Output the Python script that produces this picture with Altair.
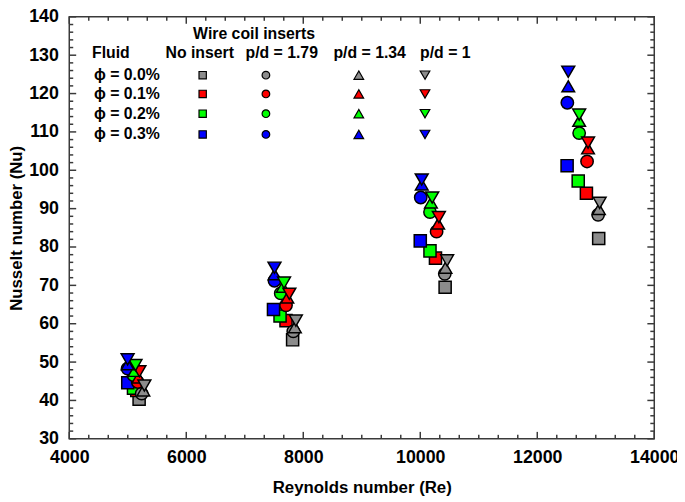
import altair as alt
import pandas as pd

# ---- data ----
fluids = ["0.0%", "0.1%", "0.2%", "0.3%"]
inserts = ["No insert", "p/d = 1.79", "p/d = 1.34", "p/d = 1"]
shapes = ["square", "circle", "triangle-up", "triangle-down"]
colors = ["#8C8C8C", "#FF0000", "#00FF00", "#0000FF"]

# rows: fluid 0.0, 0.1, 0.2, 0.3 ; columns: the four flow-rate clusters
re_no_insert = [[5194, 7818, 10425, 13050],
                [5154, 7705, 10260, 12840],
                [5098, 7603, 10166, 12700],
                [5000, 7491, 10000, 12510]]
nu_no_insert = [[40.3, 55.8, 69.5, 82.2],
                [42.6, 60.8, 77.1, 94.0],
                [43.2, 62.0, 79.0, 97.2],
                [44.6, 63.7, 81.6, 101.2]]

re_pd179 = [[5238, 7829, 10419, 13040],
            [5171, 7705, 10279, 12851],
            [5098, 7615, 10166, 12716],
            [4997, 7508, 10008, 12514]]
nu_pd179 = [[41.8, 58.0, 73.0, 88.4],
            [44.8, 64.8, 84.0, 102.3],
            [46.6, 67.9, 89.1, 109.7],
            [48.3, 71.2, 92.9, 117.6]]

re_pd134 = [[5267, 7857, 10431, 13054],
            [5182, 7728, 10306, 12868],
            [5115, 7649, 10182, 12716],
            [4997, 7508, 10025, 12530]]
nu_pd134 = [[42.6, 59.1, 74.6, 89.9],
            [46.0, 66.8, 86.1, 105.7],
            [47.7, 69.6, 91.6, 112.9],
            [49.4, 72.9, 96.3, 121.9]]

re_pd1 = [[5284, 7873, 10459, 13066],
          [5199, 7762, 10318, 12868],
          [5132, 7671, 10204, 12716],
          [4997, 7508, 10025, 12530]]
nu_pd1 = [[43.9, 60.8, 76.5, 91.5],
          [47.6, 67.8, 87.8, 107.2],
          [49.2, 70.7, 92.9, 114.5],
          [50.7, 74.6, 97.6, 125.7]]

x_ticks = [4000, 6000, 8000, 10000, 12000, 14000]
y_ticks = [30, 40, 50, 60, 70, 80, 90, 100, 110, 120, 130, 140]

RE = [re_no_insert, re_pd179, re_pd134, re_pd1]
NU = [nu_no_insert, nu_pd179, nu_pd134, nu_pd1]

rows = []
for i, ins in enumerate(inserts):
    for j, fl in enumerate(fluids):
        for k in range(4):
            rows.append({"insert": ins, "fluid": fl, "Re": RE[i][j][k], "Nu": NU[i][j][k]})
df = pd.DataFrame(rows)

# ---- layout ----
W, H = 592, 427
TOP = 6
FONT = "Liberation Sans"
FRAME = "#3A3A3A"

xscale = alt.Scale(domain=[4000, 14000], nice=False, zero=False)
yscale = alt.Scale(domain=[30, 140], nice=False, zero=False)
shape_scale = alt.Scale(domain=inserts, range=shapes)
color_scale = alt.Scale(domain=fluids, range=colors)

xaxis = alt.Axis(values=x_ticks, format="d", title="Reynolds number (Re)",
                 ticks=False, domain=False, grid=False,
                 labelFont=FONT, labelFontSize=18, labelFontWeight="bold", labelColor="black",
                 labelPadding=10, labelFlush=False,
                 titleFont=FONT, titleFontSize=17, titleFontWeight="bold", titleColor="black",
                 titlePadding=13)
yaxis = alt.Axis(values=y_ticks, format="d", title="Nusselt number (Nu)",
                 ticks=False, domain=False, grid=False,
                 labelFont=FONT, labelFontSize=18, labelFontWeight="bold", labelColor="black",
                 labelPadding=11, labelFlush=False,
                 titleFont=FONT, titleFontSize=17, titleFontWeight="bold", titleColor="black",
                 titlePadding=3)

points = alt.Chart(df).mark_point(filled=True, stroke="black", strokeWidth=1.5, opacity=1).encode(
    x=alt.X("Re:Q", scale=xscale, axis=xaxis),
    y=alt.Y("Nu:Q", scale=yscale, axis=yaxis),
    shape=alt.Shape("insert:N", scale=shape_scale, legend=None),
    color=alt.Color("fluid:N", scale=color_scale, legend=None),
    size=alt.Size("insert:N", scale=alt.Scale(domain=inserts, range=[150, 170, 220, 220]), legend=None),
)

# inward ticks on all four sides
x_minor = [4000 + i * 2000 / 6 for i in range(31) if i % 6 != 0]
y_minor = [v for v in range(30, 141, 2) if v % 10 != 0]
df_xmaj = pd.DataFrame({"Re": x_ticks})
df_xmin = pd.DataFrame({"Re": x_minor})
df_ymaj = pd.DataFrame({"Nu": y_ticks})
df_ymin = pd.DataFrame({"Nu": y_minor})

def xtick(d, length, bottom=True):
    y0 = H if bottom else 0
    y1 = H - length if bottom else length
    return alt.Chart(d).mark_rule(color=FRAME, strokeWidth=1.5).encode(
        x=alt.X("Re:Q", scale=xscale, axis=xaxis), y=alt.value(y0), y2=alt.value(y1))

def ytick(d, length, left=True):
    x0 = 0 if left else W
    x1 = length if left else W - length
    return alt.Chart(d).mark_rule(color=FRAME, strokeWidth=1.5).encode(
        y=alt.Y("Nu:Q", scale=yscale, axis=yaxis), x=alt.value(x0), x2=alt.value(x1))

ticks = [xtick(df_xmaj, 7, True), xtick(df_xmaj, 7, False),
         xtick(df_xmin, 4, True), xtick(df_xmin, 4, False),
         ytick(df_ymaj, 7, True), ytick(df_ymaj, 7, False),
         ytick(df_ymin, 4, True), ytick(df_ymin, 4, False)]

# ---- custom legend (pixel layout inside the plot area) ----
def label(text, px, py, align="center"):
    return alt.Chart(pd.DataFrame({"t": [text]})).mark_text(
        font=FONT, fontSize=16, fontWeight="bold", color="black", align=align, baseline="middle"
    ).encode(text="t:N", x=alt.value(px), y=alt.value(py))

legend_texts = [
    label("Wire coil inserts", 187, 17),
    label("Fluid", 23, 37, "left"),
    label(inserts[0], 132, 37),
    label(inserts[1], 215, 37),
    label(inserts[2], 304, 37),
    label(inserts[3], 355, 37, "left"),
]
row_y = [59, 78, 98, 119]
col_x = [135, 199, 293, 360]
leg_size = [55, 60, 95, 95]
for j, fl in enumerate(fluids):
    legend_texts.append(label("ϕ = " + fl, 25, row_y[j], "left"))

leg_rows = []
for i, ins in enumerate(inserts):
    for j, fl in enumerate(fluids):
        leg_rows.append({"insert": ins, "fluid": fl, "lx": col_x[i], "ly": row_y[j], "ls": leg_size[i]})
df_leg = pd.DataFrame(leg_rows)
legend_pts = alt.Chart(df_leg).mark_point(filled=True, stroke="black", strokeWidth=1.2, opacity=1).encode(
    x=alt.X("lx:Q", scale=None, axis=None),
    y=alt.Y("ly:Q", scale=None, axis=None),
    size=alt.Size("ls:Q", scale=None, legend=None),
    shape=alt.Shape("insert:N", scale=shape_scale, legend=None),
    color=alt.Color("fluid:N", scale=color_scale, legend=None),
)

chart = alt.layer(points, *ticks, *legend_texts, legend_pts).properties(
    width=W, height=H,
    autosize=alt.AutoSizeParams(type="none"),
    padding={"left": 62, "top": TOP, "right": 23, "bottom": 60},
).configure_view(stroke=FRAME, strokeWidth=1.5)

chart.save("out.html", embed_options={"renderer": "svg", "actions": False})
